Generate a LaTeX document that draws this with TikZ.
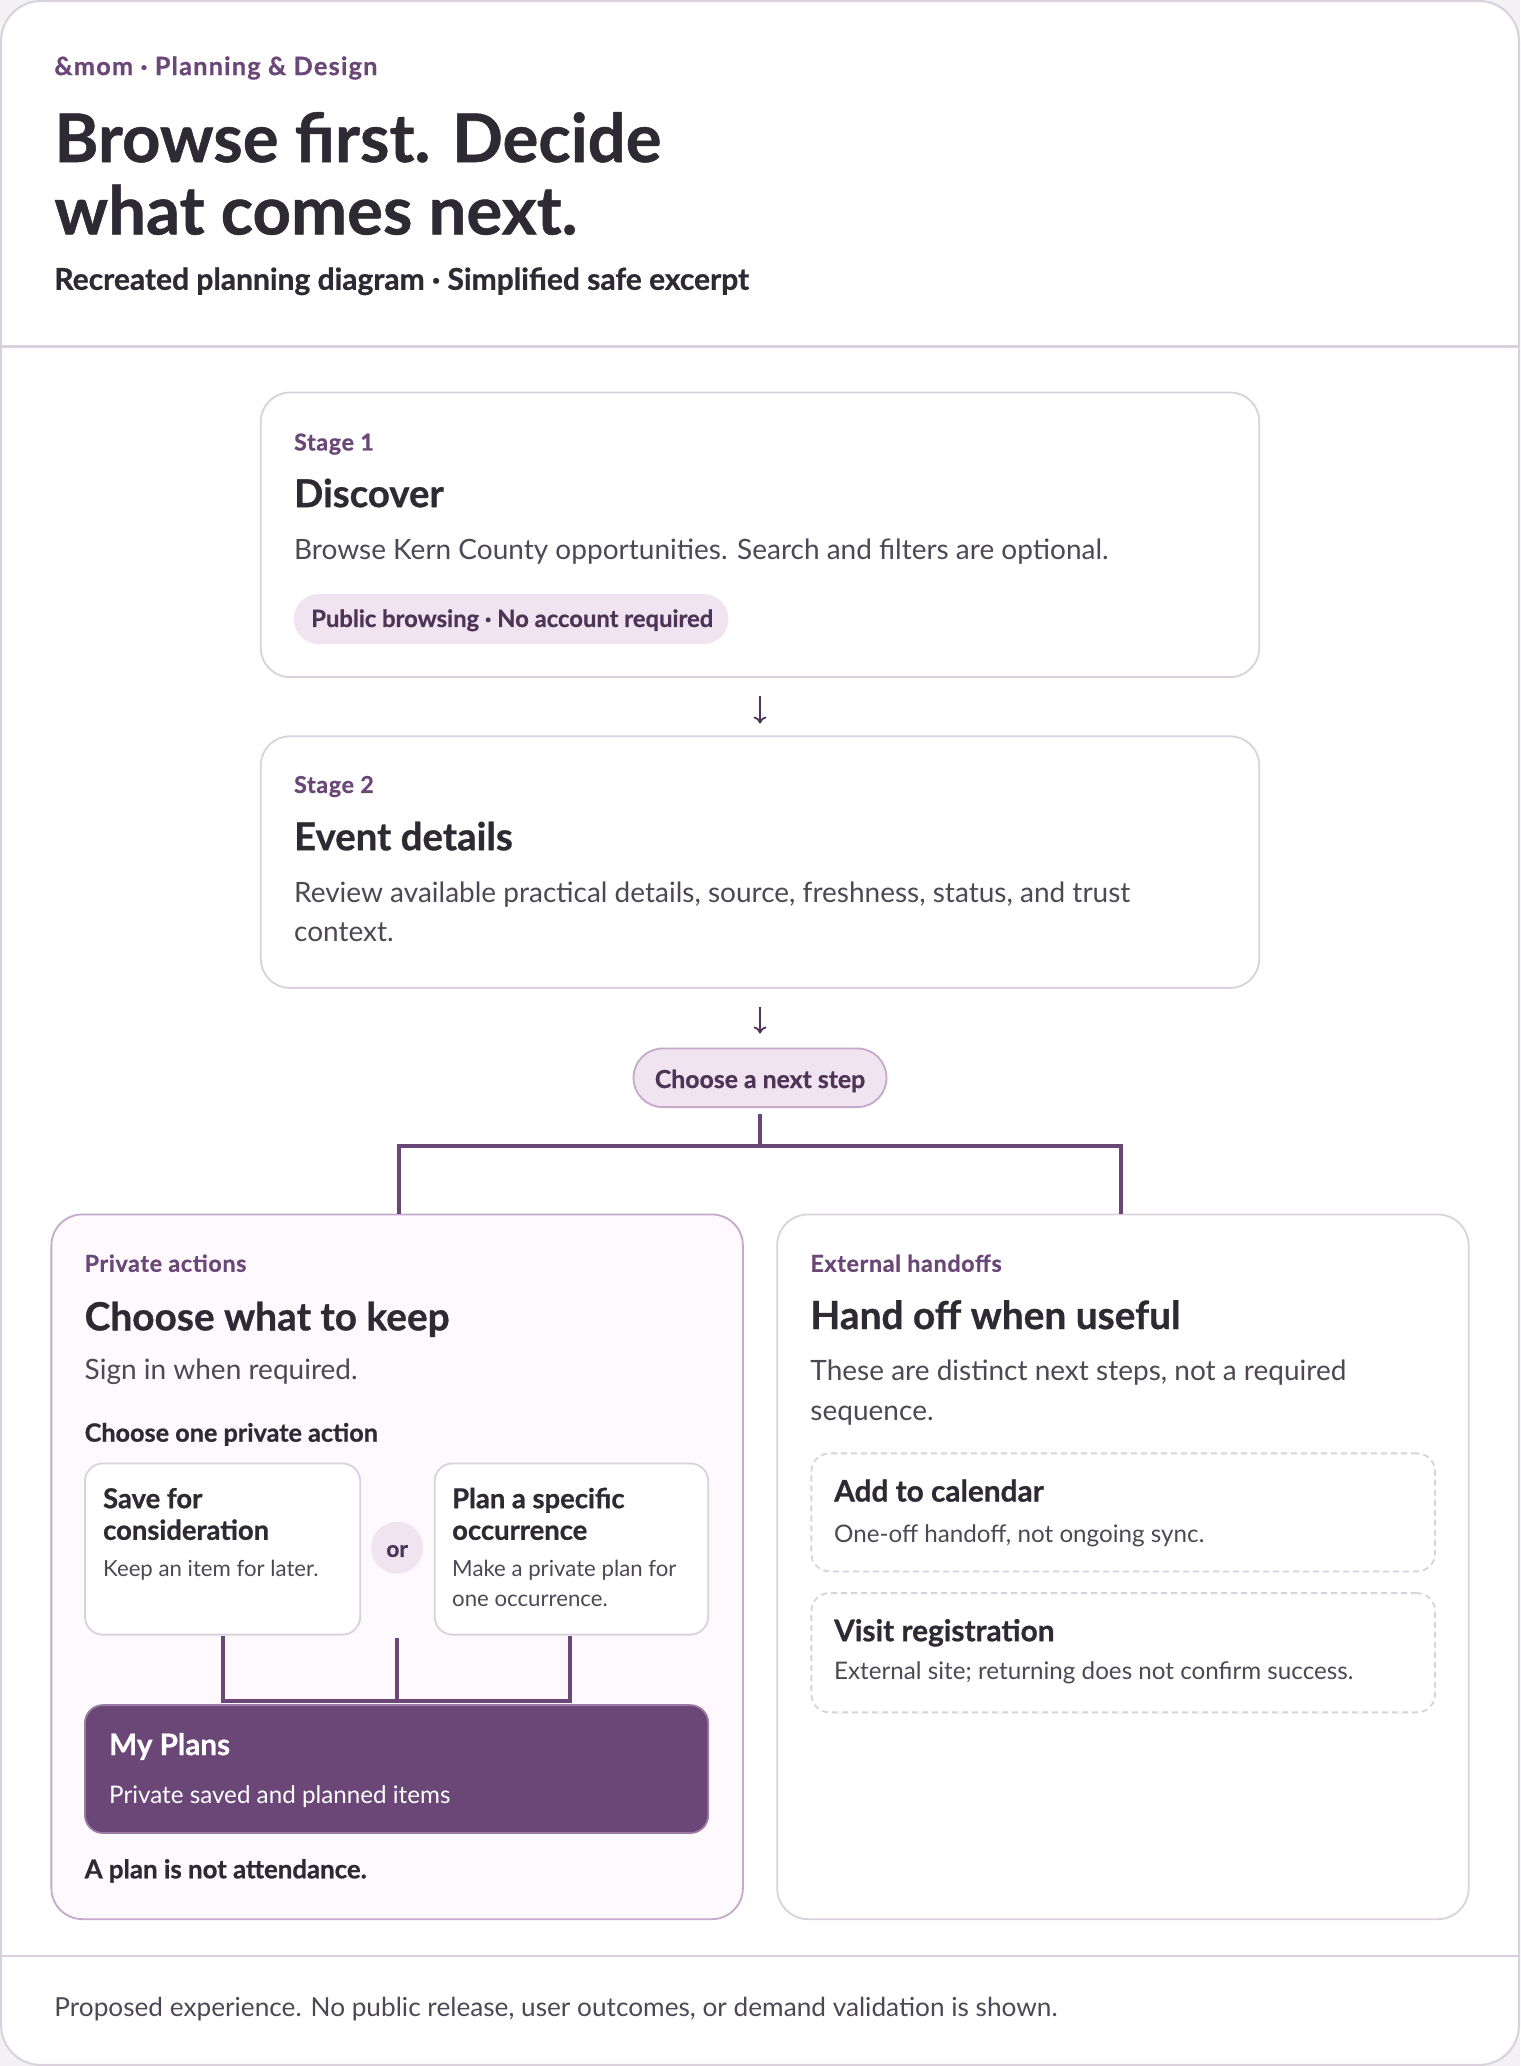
\documentclass[tikz,border=0pt]{standalone}
\usepackage{fontspec}
\setmainfont{Lato}[BoldFeatures={FakeBold=0.8}]
\newfontfamily\trackfont{Lato}[LetterSpace=3, BoldFeatures={FakeBold=0.8}]
\newfontfamily\trackwide{Lato}[LetterSpace=5, BoldFeatures={FakeBold=0.8}]
\usetikzlibrary{arrows.meta,fit,calc}
\definecolor{accent}{HTML}{6B4777}
\definecolor{accentdk}{HTML}{4E3558}
\definecolor{ink}{HTML}{2E2A33}
\definecolor{body}{HTML}{4D4853}
\definecolor{lineclr}{HTML}{D9D2DD}
\definecolor{purpborder}{HTML}{C6A8CC}
\definecolor{pillfill}{HTML}{F0E4F1}
\definecolor{panelfill}{HTML}{FDF9FD}
\definecolor{outbg}{HTML}{F3F1F4}
\definecolor{plansborder}{HTML}{9B7BA4}
\tikzset{
  txt/.style={inner sep=0pt, anchor=base west},
  eyebrow/.style={txt, text=accent, font={\trackwide\bfseries\fontsize{12.6pt}{14pt}\selectfont}},
  titlef/.style={txt, text=ink, font=\bfseries\fontsize{33.5pt}{38pt}\selectfont},
  subtitlef/.style={txt, text=ink, font=\bfseries\fontsize{15pt}{17pt}\selectfont},
  stagelbl/.style={txt, text=accent, font={\trackfont\bfseries\fontsize{11.6pt}{13pt}\selectfont}},
  stagettl/.style={txt, text=ink, font=\bfseries\fontsize{19.2pt}{22pt}\selectfont},
  bodyf/.style={txt, text=body, font=\fontsize{14pt}{16pt}\selectfont},
  cardttl/.style={txt, text=ink, font=\bfseries\fontsize{19.4pt}{22pt}\selectfont},
  minittl/.style={txt, text=ink, font=\bfseries\fontsize{13.7pt}{15pt}\selectfont},
  minibody/.style={txt, text=body, font=\fontsize{11.1pt}{13pt}\selectfont},
  handttl/.style={txt, text=ink, font=\bfseries\fontsize{14.9pt}{17pt}\selectfont},
  handbody/.style={txt, text=body, font=\fontsize{12.1pt}{14pt}\selectfont},
  stagebox/.style={draw=lineclr, line width=0.9pt, fill=white, rounded corners=14.5pt, inner sep=0pt},
  pillbox/.style={fill=pillfill, rounded corners=12.5pt, inner sep=0pt},
  minibox/.style={draw=lineclr, line width=0.9pt, fill=white, rounded corners=9pt, inner sep=0pt},
  dashbox/.style={draw=lineclr, line width=0.9pt, dash pattern=on 3pt off 2pt, rounded corners=9pt, inner sep=0pt},
  conn/.style={draw=accent, line width=2pt},
  downarrow/.style={draw=accentdk, line width=0.9pt, -{To[length=3.5pt,width=6.5pt]}},
}
\begin{document}
\begin{tikzpicture}[x=0.6586pt, y=-0.6586pt]
\useasboundingbox (0,0) rectangle (1154,1568.5);
\fill[outbg] (0,0) rectangle (1154,1568.5);
\draw[lineclr, line width=1pt, fill=white, rounded corners=20pt] (0.8,0.8) rectangle (1153.2,1567.7);
% separators
\coordinate (hsl) at (0,263); \coordinate (hsr) at (1154,263);
\draw[lineclr, line width=1.2pt] (hsl) -- (hsr);
\coordinate (fsl) at (0,1485); \coordinate (fsr) at (1154,1485);
\draw[lineclr, line width=1.2pt] (fsl) -- (fsr);

% header
\node[eyebrow] (eb) at (41,57) {\&mom · Planning \& Design};
\node[titlef] (t1) at (41,123) {Browse first. Decide};
\node[titlef] (t2) at (41,178) {what comes next.};
\node[subtitlef] (st) at (41,220) {Recreated planning diagram · Simplified safe excerpt};

% stage 1
\node[stagebox, fit={(198,298)(956,514)}] (s1) {};
\node[stagelbl] (s1l) at (223,342) {Stage 1};
\node[stagettl] (s1t) at (223,385) {Discover};
\node[bodyf] (s1d) at (223,425) {Browse Kern County opportunities. Search and filters are optional.};
\node[pillbox, fit={(223,451)(553,489)}] (pb) {};
\node[txt, text=accentdk, font=\bfseries\fontsize{11.9pt}{13pt}\selectfont] (pbt) at (236,476) {Public browsing · No account required};

% stage 2
\node[stagebox, fit={(198,559)(956,750)}] (s2) {};
\node[stagelbl] (s2l) at (223,602) {Stage 2};
\node[stagettl] (s2t) at (223,645.5) {Event details};
\node[bodyf] (s2d1) at (223,685) {Review available practical details, source, freshness, status, and trust};
\node[bodyf] (s2d2) at (223,714.5) {context.};

\draw[downarrow, shorten <=9.2pt, shorten >=5.9pt] (s1.south) -- (s2.north);

% choose pill
\node[draw=purpborder, line width=0.9pt, fill=pillfill, rounded corners=14.5pt, inner sep=0pt, fit={(481,796)(673,840.5)}] (cp) {};
\node[txt, anchor=base, text=accentdk, font=\bfseries\fontsize{12.4pt}{14pt}\selectfont] (cpt) at (577,826) {Choose a next step};
\draw[downarrow, shorten <=9.2pt, shorten >=7pt] (s2.south) -- (cp.north);

% panels
\node[draw=purpborder, line width=0.9pt, fill=panelfill, rounded corners=15.5pt, inner sep=0pt, fit={(39,922)(564,1457)}] (lp) {};
\node[stagebox, rounded corners=15.5pt, fit={(590,922)(1115,1457)}] (rp) {};

\coordinate (j1) at (577,870);
\draw[conn, shorten <=3pt] (cp.south) -- (j1);
\draw[conn] (j1) -| ($(lp.north)+(1.5,0)$);
\draw[conn] (j1) -| ($(rp.north)+(-1.5,0)$);

% left panel
\node[stagelbl] (lpl) at (64,965.5) {Private actions};
\node[cardttl] (lpt) at (64,1010) {Choose what to keep};
\node[bodyf] (lpd) at (64,1047.6) {Sign in when required.};
\node[txt, text=ink, font=\bfseries\fontsize{12.6pt}{14pt}\selectfont] (lpc) at (64,1094.5) {Choose one private action};

\node[minibox, fit={(64.5,1111)(273.5,1241)}] (save) {};
\node[minittl] (sv1) at (78,1145) {Save for};
\node[minittl] (sv2) at (78,1169) {consideration};
\node[minibody] (sv3) at (78,1196.5) {Keep an item for later.};

\node[minibox, fit={(330,1111)(537.7,1241)}] (plan) {};
\node[minittl] (pl1) at (343,1145) {Plan a specific};
\node[minittl] (pl2) at (343,1169) {occurrence};
\node[minibody] (pl3) at (343,1196.5) {Make a private plan for};
\node[minibody] (pl4) at (343,1220) {one occurrence.};

\node[circle, fill=pillfill, minimum size=26pt, inner sep=0pt] (orc) at (301.5,1175) {};
\node[txt, anchor=base, text=accentdk, font=\bfseries\fontsize{11.4pt}{12pt}\selectfont] (ort) at (301.5,1182) {or};

\coordinate (hb) at (0,1291);
\draw[conn] (save.south) -- (save.south |- hb);
\draw[conn] ($(orc |- save.south)+(0,2)$) -- (orc |- hb);
\draw[conn] (plan.south -| 432.7,0) -- (432.7,1291);
\draw[conn, line cap=rect] (save.south |- hb) -- (432.7,1291);

\node[draw=plansborder, line width=0.9pt, fill=accent, rounded corners=9pt, inner sep=0pt, fit={(64.5,1294.5)(537.7,1391.6)}] (plans) {};
\node[txt, text=white, font=\bfseries\fontsize{14.8pt}{17pt}\selectfont] (mpt) at (82.6,1332.4) {My Plans};
\node[txt, text=white, font=\fontsize{12.1pt}{14pt}\selectfont] (mpd) at (82.6,1369) {Private saved and planned items};

\node[txt, text=ink, font=\bfseries\fontsize{12.9pt}{15pt}\selectfont] (note) at (64,1426) {A plan is not attendance.};

% right panel
\node[stagelbl] (rpl) at (615,965.5) {External handoffs};
\node[cardttl] (rpt) at (615,1009) {Hand off when useful};
\node[bodyf] (rpd1) at (615,1047.7) {These are distinct next steps, not a required};
\node[bodyf] (rpd2) at (615,1078.6) {sequence.};

\node[dashbox, fit={(616,1103.4)(1089.5,1193)}] (cal) {};
\node[handttl] (calt) at (633,1140) {Add to calendar};
\node[handbody] (cald) at (633,1170.7) {One-off handoff, not ongoing sync.};

\node[dashbox, fit={(616,1209.5)(1089.5,1300)}] (reg) {};
\node[handttl] (regt) at (633,1246) {Visit registration};
\node[handbody] (regd) at (633,1275.4) {External site; returning does not confirm success.};

% footer
\node[txt, text=body, font=\fontsize{13.1pt}{15pt}\selectfont] (ft) at (41,1531) {Proposed experience. No public release, user outcomes, or demand validation is shown.};
\end{tikzpicture}
\end{document}
